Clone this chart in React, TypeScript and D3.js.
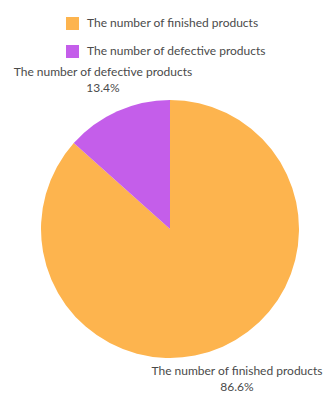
import React from "react";
import * as d3 from "d3";

const categories = ["The number of finished products", "The number of defective products"];
const values = [86.6, 13.4];
const percentLabels = ["86.6%", "13.4%"];
const colors = ["#FDB44E", "#C45EEA"];

const W = 324;
const H = 398;
const cx = 170;
const cy = 229;
const R = 129;
const FONT = "Lato, 'Open Sans', sans-serif";
const TEXT = "#4a4a4a";

export default function App() {
  const pie = d3.pie<number>().sort(null).startAngle(0).endAngle(2 * Math.PI);
  const arcs = pie(values);
  const arc = d3.arc<d3.PieArcDatum<number>>().innerRadius(0).outerRadius(R);
  const labelR = 164;
  return (
    <svg width={W} height={H} style={{ position: "absolute", left: 0, top: 0, background: "#fff" }}>
      <g>
        {categories.map((c, i) => (
          <g key={c} transform={`translate(66, ${17 + i * 28})`}>
            <rect width={13} height={13} fill={colors[i]} />
            <text x={21} y={5.5} dominantBaseline="central" fontFamily={FONT} fontSize={12} fill={TEXT}>
              {c}
            </text>
          </g>
        ))}
      </g>
      <g transform={`translate(${cx},${cy})`}>
        {arcs.map((a, i) => (
          <path key={i} d={arc(a) || ""} fill={colors[i]} />
        ))}
      </g>
      {arcs.map((a, i) => {
        const mid = (a.startAngle + a.endAngle) / 2;
        const x = cx + labelR * Math.sin(mid);
        const y = cy - labelR * Math.cos(mid);
        return (
          <text key={i} textAnchor="middle" fontFamily={FONT} fontSize={12} fill={TEXT}>
            <tspan x={x} y={y - 3.5}>{categories[i]}</tspan>
            <tspan x={x} y={y + 12.5}>{percentLabels[i]}</tspan>
          </text>
        );
      })}
    </svg>
  );
}
